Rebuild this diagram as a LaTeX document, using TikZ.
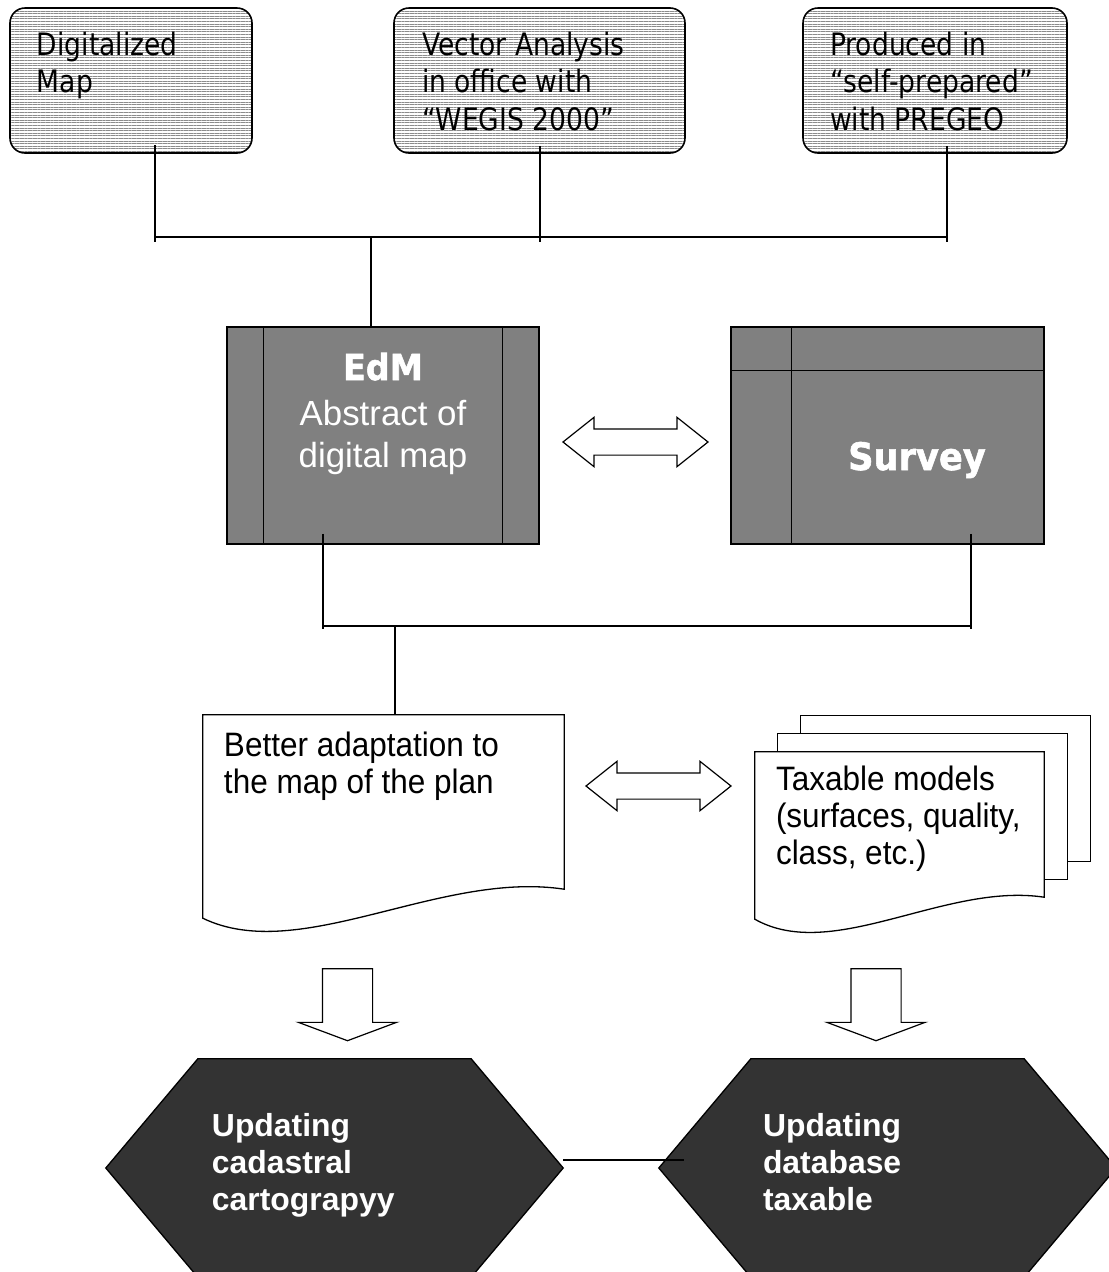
\documentclass[tikz,border=0pt]{standalone}
\usepackage{fontspec}
\setmainfont{Liberation Sans}
\newfontfamily\tahomafont{DejaVu Sans}[FakeStretch=0.86]
\newfontfamily\heavyfont{DejaVu Sans}[FakeStretch=0.93, BoldFeatures={FakeBold=1.5}]
\newfontfamily\docfont{Liberation Sans}[FakeStretch=0.93]
\usepackage{tikz}
\usetikzlibrary{shapes.arrows,patterns.meta}
\usetikzlibrary{calc,positioning}
\definecolor{boxgray}{HTML}{808080}
\definecolor{hexgray}{HTML}{333333}
\pgfdeclarelayer{background}
\pgfsetlayers{background,main}
% fixed size text block: height, width, first baseline, text
\newcommand{\inbox}[4]{\parbox[c][#1][t]{#2}{\rule{0pt}{#3}#4}}
\tikzset{
  srcbox/.style={draw, line width=1.6bp, rounded corners=15bp, inner sep=0pt, pattern={Lines[distance=2.6bp, line width=0.9bp]}, pattern color=black!45, font=\tahomafont\fontsize{31}{38}\selectfont},
  gridbox/.style={draw, line width=1.6bp, fill=boxgray, inner sep=0pt, text=white},
  docnode/.style={inner sep=0pt, font=\docfont\fontsize{34}{37.5}\selectfont},
  docline/.style={draw, line width=1.3bp, fill=white},
  hexnode/.style={inner sep=0pt, text=white, font=\bfseries\fontsize{32}{37.5}\selectfont},
  hexline/.style={draw, line width=1.3bp, fill=hexgray},
  swaparrow/.style={double arrow, draw, line width=1.2bp, inner sep=12.5bp, minimum height=145bp, double arrow head extend=11.5bp, double arrow tip angle=77},
  downarrow/.style={single arrow, draw, line width=1.2bp, inner sep=24.5bp, shape border rotate=270, minimum height=72bp, single arrow head extend=24bp, single arrow tip angle=139},
  wire/.style={line width=1.3bp}
}

\begin{document}
\begin{tikzpicture}[x=1bp, y=-1bp]
	\useasboundingbox (0,0) rectangle (1109,1272);

	% sources
	\node [srcbox] (digmap) at (131,80.5) {\inbox{145bp}{242bp}{47bp}{\leftskip=27bp\relax Digitalized\\Map}};
	\node [srcbox] (vector) at (539.5,80.5) {\inbox{145bp}{291bp}{47bp}{\leftskip=28bp\relax Vector Analysis\\in office with\\“WEGIS 2000”}};
	\node [srcbox] (produced) at (935,80.5) {\inbox{145bp}{264bp}{47bp}{\leftskip=27bp\relax Produced in\\“self-prepared”\\with PREGEO}};

	\coordinate (tapdig) at (155,237);
	\coordinate (tapvec) at (540,237);
	\coordinate (tappro) at (947,237);
	\coordinate (tapedm) at (371,237);
	\draw [wire] (tapdig) -- (tappro);
	\foreach \n/\t in {digmap/tapdig, vector/tapvec, produced/tappro}
		\draw [wire] ([yshift=8bp]\n.south -| \t) -- ([yshift=-5bp]\t);

	% middle row
	\node [gridbox] (edm) at (383,435.5) {\inbox{217bp}{312bp}{53bp}{\centering{\heavyfont\bfseries\fontsize{36}{42}\selectfont EdM}\\[4bp]\fontsize{35}{42}\selectfont Abstract of\\digital map}};
	\draw [wire] ([xshift=37bp]edm.north west) -- ([xshift=37bp]edm.south west);
	\draw [wire] ([xshift=-37bp]edm.north east) -- ([xshift=-37bp]edm.south east);
	\draw [wire] (tapedm) -- (edm.north -| tapedm);

	\node [gridbox] (survey) at (887.5,435.5) {\inbox{217bp}{313bp}{143bp}{\hspace*{61bp}\makebox[250bp]{\heavyfont\bfseries\fontsize{38}{44}\selectfont Survey}}};
	\draw [wire] ([xshift=61bp]survey.north west) -- ([xshift=61bp]survey.south west);
	\draw [wire] ([yshift=-44bp]survey.north west) -- ([yshift=-44bp]survey.north east);

	\node [swaparrow] (swapmid) at (635.5,442) {};

	\coordinate (tapleft) at (323,626);
	\coordinate (tapright) at (971,626);
	\coordinate (tapdoc) at (395,626);
	\draw [wire] (tapleft) -- (tapright);
	\draw [wire] ([yshift=11bp]edm.south -| tapleft) -- ([yshift=-3bp]tapleft);
	\draw [wire] ([yshift=11bp]survey.south -| tapright) -- ([yshift=-3bp]tapright);

	% documents
	\node [docnode] (adapt) at (383.5,802) {\inbox{174bp}{361bp}{41bp}{\leftskip=21bp\relax Better adaptation to\\the map of the plan}};
	\node [docnode] (taxmod) at (899.5,824.5) {\inbox{145bp}{289bp}{38bp}{\leftskip=21bp\relax Taxable models\\(surfaces, quality,\\class, etc.)}};
	\draw [wire] (tapdoc) -- (adapt.north -| tapdoc);
	\begin{pgfonlayer}{background}
		\draw [docline] (adapt.south east) -- (adapt.north east) -- (adapt.north west) -- ($(adapt.south west)+(0,29)$)
			.. controls ($(adapt.south west)+(97,76)$) and ($(adapt.south west)+(237,-19)$) .. (adapt.south east) -- cycle;
		\foreach \k in {2,1}
			\draw [docline] ($(taxmod.north west)+(\k*23,-\k*18)$) rectangle ($(taxmod.south east)+(\k*23,-\k*18)$);
		\draw [docline] (taxmod.south east) -- (taxmod.north east) -- (taxmod.north west) -- ($(taxmod.south west)+(0,22)$)
			.. controls ($(taxmod.south west)+(78,66)$) and ($(taxmod.south west)+(190,-15)$) .. (taxmod.south east) -- cycle;
	\end{pgfonlayer}

	\node [swaparrow] (swaplow) at (658.5,786) {};

	\node [downarrow] (downleft) at (347.5,1000) {};
	\node [downarrow] (downright) at (876,1000) {};

	% results
	\node [hexnode] (cadastre) at (334.5,1168) {\inbox{218bp}{457bp}{77bp}{\leftskip=106bp\relax Updating\\cadastral\\cartograpyy}};
	\node [hexnode] (taxdb) at (887.5,1168) {\inbox{218bp}{457bp}{77bp}{\leftskip=104bp\relax Updating\\database\\taxable}};
	\begin{pgfonlayer}{background}
		\foreach \n in {cadastre,taxdb}
			\draw [hexline] (\n.west) -- ([xshift=92bp]\n.north west) -- ([xshift=-92bp]\n.north east) -- (\n.east)
				-- ([xshift=-92bp]\n.south east) -- ([xshift=92bp]\n.south west) -- cycle;
	\end{pgfonlayer}
	\draw [wire] ([yshift=8bp]cadastre.east) -- ([xshift=25bp,yshift=8bp]taxdb.west);
\end{tikzpicture}
\end{document}
